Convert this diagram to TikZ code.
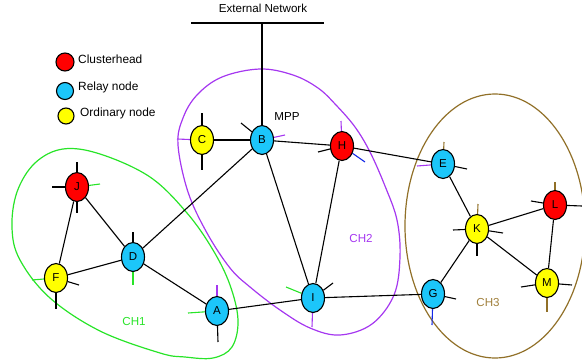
\documentclass[tikz,border=0pt]{standalone}
\usepackage{fontspec}
\setmainfont{Liberation Sans}
\usetikzlibrary{shapes.geometric}

\definecolor{relayblue}{RGB}{28,198,250}
\definecolor{headred}{RGB}{255,0,0}
\definecolor{ordyellow}{RGB}{255,255,0}
\definecolor{chgreen}{RGB}{40,228,40}
\definecolor{chpurple}{RGB}{165,55,240}
\definecolor{chbrown}{RGB}{145,112,40}
\definecolor{chbrowntext}{RGB}{160,128,60}
\definecolor{stubblue}{RGB}{20,40,230}

\pgfdeclarelayer{bg}
\pgfsetlayers{bg,main}

\begin{document}
\begin{tikzpicture}[x=1pt,y=-1pt,
  txt/.style={font=\fontsize{11.6}{13}\selectfont, inner sep=0pt},
  legtxt/.style={font=\fontsize{11.9}{13}\selectfont, inner sep=0pt, anchor=west},
  nd/.style={ellipse, draw=black, line width=1.1pt, minimum width=23pt,
             minimum height=29pt, inner sep=0pt, font=\fontsize{11.5}{13}\selectfont},
  head/.style={nd, fill=headred},
  relay/.style={nd, fill=relayblue},
  ord/.style={nd, fill=ordyellow},
  legdot/.style={circle, draw=black, line width=1.1pt, inner sep=0pt},
  link/.style={draw=black, line width=1.1pt},
  stubk/.style={draw=black, line width=1.1pt},
  stubg/.style={draw=chgreen, line width=1.1pt},
  stubp/.style={draw=chpurple, line width=1.1pt},
  stubb/.style={draw=chbrown, line width=1.1pt},
  stubbl/.style={draw=stubblue, line width=1.1pt},
  cluster/.style={line width=1.2pt}]
\useasboundingbox (0,0) rectangle (582,364);

% legend
\node[legdot, fill=headred, minimum size=18pt] (lhead) at (65,62) {};
\node[legdot, fill=relayblue, minimum size=17pt] (lrelay) at (65,91) {};
\node[legdot, fill=ordyellow, minimum size=16pt] (lord) at (66,116) {};
\node[legtxt] (lheadtxt) at (78,59) {Clusterhead};
\node[legtxt] (lrelaytxt) at (78,87) {Relay node};
\node[legtxt] (lordtxt) at (80,113) {Ordinary node};

% external network bus
\node[txt] (ext) at (263,8) {External Network};
\coordinate (busL) at (191,23);
\coordinate (busR) at (324,23);
\coordinate (busM) at (262,23);

% nodes
\node[ord]   (C) at (202,140) {C};
\node[relay] (B) at (262,140) {B};
\node[head]  (H) at (342,146) {H};
\node[head]  (J) at (77,187)  {J};
\node[relay] (D) at (133,257) {D};
\node[ord]   (F) at (56,278)  {F};
\node[relay] (A) at (217,311) {A};
\node[relay] (I) at (313,298) {I};
\node[relay] (G) at (433,294) {G};
\node[relay] (E) at (443,164) {E};
\node[ord]   (K) at (477,229) {K};
\node[head]  (L) at (555,205) {L};
\node[ord]   (M) at (547,283) {M};

% labels
\node[txt] (mpp) at (287,117) {MPP};
\node[txt, text=chgreen] (ch1) at (134,322) {CH1};
\node[txt, text=chpurple] (ch2) at (361,239) {CH2};
\node[txt, text=chbrowntext] (ch3) at (488,303) {CH3};

\begin{pgfonlayer}{bg}
  % cluster outlines
  \draw[cluster, draw=chgreen] plot[smooth cycle, tension=0.6] coordinates {
    (63,149) (100,154) (150,177) (187,213) (213,250) (230,285) (238,320)
    (232,347) (213,358) (185,357) (160,353) (100,331) (50,298) (20,260)
    (12,228) (17,192) (35,163)};
  \draw[cluster, draw=chpurple] plot[smooth cycle, tension=0.6] coordinates {
    (260,69) (293,75) (318,88) (336,105) (355,127) (370,152) (385,186)
    (397,220) (400,257) (394,295) (372,324) (340,335) (310,328) (280,310)
    (250,287) (230,268) (207,233) (188,192) (178,145) (183,118) (197,95)
    (222,77)};
  \draw[cluster, draw=chbrown] (495,226) ellipse [x radius=90, y radius=132];

  % bus
  \draw[link] (busL) -- (busR);
  \draw[link] (busM) -- (B);

  % links
  \draw[link] (C) -- (B);
  \draw[link] (B) -- (H);
  \draw[link] (H) -- (E);
  \draw[link] (B) -- (D);
  \draw[link] (B) -- (I);
  \draw[link] (H) -- (I);
  \draw[link] (J) -- (F);
  \draw[link] (J) -- (D);
  \draw[link] (F) -- (D);
  \draw[link] (D) -- (A);
  \draw[link] (A) -- (I);
  \draw[link] (I) -- (G);
  \draw[link] (G) -- (K);
  \draw[link] (E) -- (K);
  \draw[link] (K) -- (L);
  \draw[link] (K) -- (M);
  \draw[link] (L) -- (M);

  % short stubs
  \draw[stubk] (C) -- ++(0,-27);
  \draw[stubk] (C) -- ++(0,30);
  \draw[stubp] (C) -- ++(-25,-1);

  \draw[stubk] (B) -- ++(-21,-17);
  \draw[stubp] (B) -- ++(23,-5);

  \draw[stubp] (H) -- ++(-1,-25);
  \draw[stubk] (H) -- ++(-24,6);
  \draw[stubbl] (H) -- ++(23,16);

  \draw[stubk] (J) -- ++(0,-25);
  \draw[stubk] (J) -- ++(-25,0);
  \draw[stubg] (J) -- ++(23,-3);
  \draw[stubk] (J) -- ++(0,26);

  \draw[stubg] (F) -- ++(-24,2);
  \draw[stubk] (F) -- ++(23,7);
  \draw[stubk] (F) -- ++(0,31);

  \draw[stubk] (D) -- ++(0,-25);
  \draw[stubg] (D) -- ++(0,28);

  \draw[stubp] (A) -- ++(0,-26);
  \draw[stubg] (A) -- ++(-29,2);
  \draw[stubk] (A) -- ++(1,31);

  \draw[stubg] (I) -- ++(-27,-11);
  \draw[stubk] (I) -- ++(20,-15);
  \draw[stubp] (I) -- ++(-1,29);

  \draw[stubk] (G) -- ++(23,5);
  \draw[stubbl] (G) -- ++(-1,31);

  \draw[stubb] (E) -- ++(1,-22);
  \draw[stubk] (E) -- ++(24,5);
  \draw[stubp] (E) -- ++(-26,2);

  \draw[stubb] (K) -- ++(1,-25);
  \draw[stubk] (K) -- ++(-24,1);
  \draw[stubk] (K) -- ++(26,4);
  \draw[stubk] (K) -- ++(0,27);

  \draw[stubb] (L) -- ++(0,-23);
  \draw[stubk] (L) -- ++(-24,-4);
  \draw[stubk] (L) -- ++(27,1);

  \draw[stubk] (M) -- ++(-26,4);
  \draw[stubk] (M) -- ++(25,2);
  \draw[stubb] (M) -- ++(0,29);
\end{pgfonlayer}
\end{tikzpicture}
\end{document}
